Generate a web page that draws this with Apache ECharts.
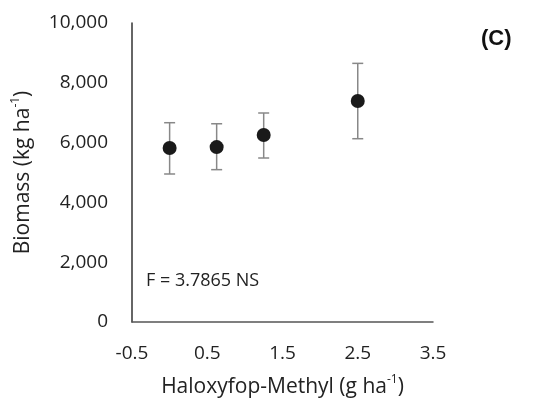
<!DOCTYPE html>
<html>
<head>
<meta charset="utf-8">
<script src="https://cdn.jsdelivr.net/npm/echarts@6/dist/echarts.min.js"></script>
<style>
  html, body { margin: 0; padding: 0; background: #fff; }
  #chart { width: 533px; height: 402px; }
</style>
</head>
<body>
<div id="chart"></div>
<script>
  var doses = [0, 0.625, 1.25, 2.5];
  var biomass = [5820, 5850, 6255, 7390];
  var errLow = [4950, 5095, 5485, 6130];
  var errHigh = [6665, 6630, 6990, 8650];
  var xTicks = [-0.5, 0.5, 1.5, 2.5, 3.5];
  var yTicks = [0, 2000, 4000, 6000, 8000, 10000];

  var font = '"Open Sans", "Noto Sans", sans-serif';
  var myChart = echarts.init(document.getElementById('chart'));

  var errData = doses.map(function(d, i) {
    return [d, errLow[i], errHigh[i]];
  });

  var titleRich = {
    t: { fontSize: 21, color: '#222', fontFamily: font, lineHeight: 26 },
    s: { fontSize: 12, color: '#222', fontFamily: font, verticalAlign: 'top', lineHeight: 26 }
  };

  var option = {
    animation: false,
    grid: { left: 132, top: 23, right: 100, bottom: 80, containLabel: false, outerBoundsMode: 'none' },
    xAxis: {
      type: 'value',
      min: -0.5,
      max: 3.5,
      interval: 1,
      splitLine: { show: false },
      axisTick: { show: false },
      axisLine: { onZero: false, lineStyle: { color: '#555', width: 1.5 } },
      axisLabel: {
        color: '#222', fontSize: 19, fontFamily: font, margin: 22,
        formatter: function(v) { return xTicks.indexOf(v) >= 0 ? v.toFixed(1) : ''; }
      },
      name: '{t|Haloxyfop-Methyl (g ha}{s|-1}{t|)}',
      nameLocation: 'middle',
      nameGap: 52,
      nameTextStyle: { rich: titleRich }
    },
    yAxis: {
      type: 'value',
      min: 0,
      max: 10000,
      interval: 2000,
      splitLine: { show: false },
      axisTick: { show: false },
      axisLine: { show: true, onZero: false, lineStyle: { color: '#333', width: 1.5 } },
      axisLabel: {
        color: '#222', fontSize: 19, fontFamily: font, margin: 24,
        formatter: function(v) { return yTicks.indexOf(v) >= 0 ? v.toLocaleString('en-US') : ''; }
      },
      name: '{t|Biomass (kg ha}{s|-1}{t|)}',
      nameLocation: 'middle',
      nameGap: 96,
      nameTextStyle: { rich: titleRich }
    },
    graphic: [
      {
        type: 'text', left: 481, top: 28,
        style: { text: '(C)', fontSize: 22, fontWeight: 'bold', fill: '#111', fontFamily: 'Liberation Sans, Arial, sans-serif' }
      },
      {
        type: 'text', left: 146, top: 272,
        style: { text: 'F = 3.7865 NS', fontSize: 18, fill: '#222', fontFamily: font }
      }
    ],
    series: [
      {
        type: 'custom',
        data: errData,
        z: 1,
        renderItem: function(params, api) {
          var x = api.value(0);
          var top = api.coord([x, api.value(2)]);
          var bot = api.coord([x, api.value(1)]);
          var hw = 5.5;
          var st = { stroke: '#888', lineWidth: 1.5 };
          return {
            type: 'group',
            children: [
              { type: 'line', shape: { x1: top[0], y1: top[1], x2: bot[0], y2: bot[1] }, style: st },
              { type: 'line', shape: { x1: top[0] - hw, y1: top[1], x2: top[0] + hw, y2: top[1] }, style: st },
              { type: 'line', shape: { x1: bot[0] - hw, y1: bot[1], x2: bot[0] + hw, y2: bot[1] }, style: st }
            ]
          };
        }
      },
      {
        type: 'scatter',
        z: 2,
        symbol: 'circle',
        symbolSize: 14,
        itemStyle: { color: '#1a1a1a', opacity: 1 },
        data: doses.map(function(d, i) { return [d, biomass[i]]; })
      }
    ]
  };
  myChart.setOption(option);
</script>
</body>
</html>
